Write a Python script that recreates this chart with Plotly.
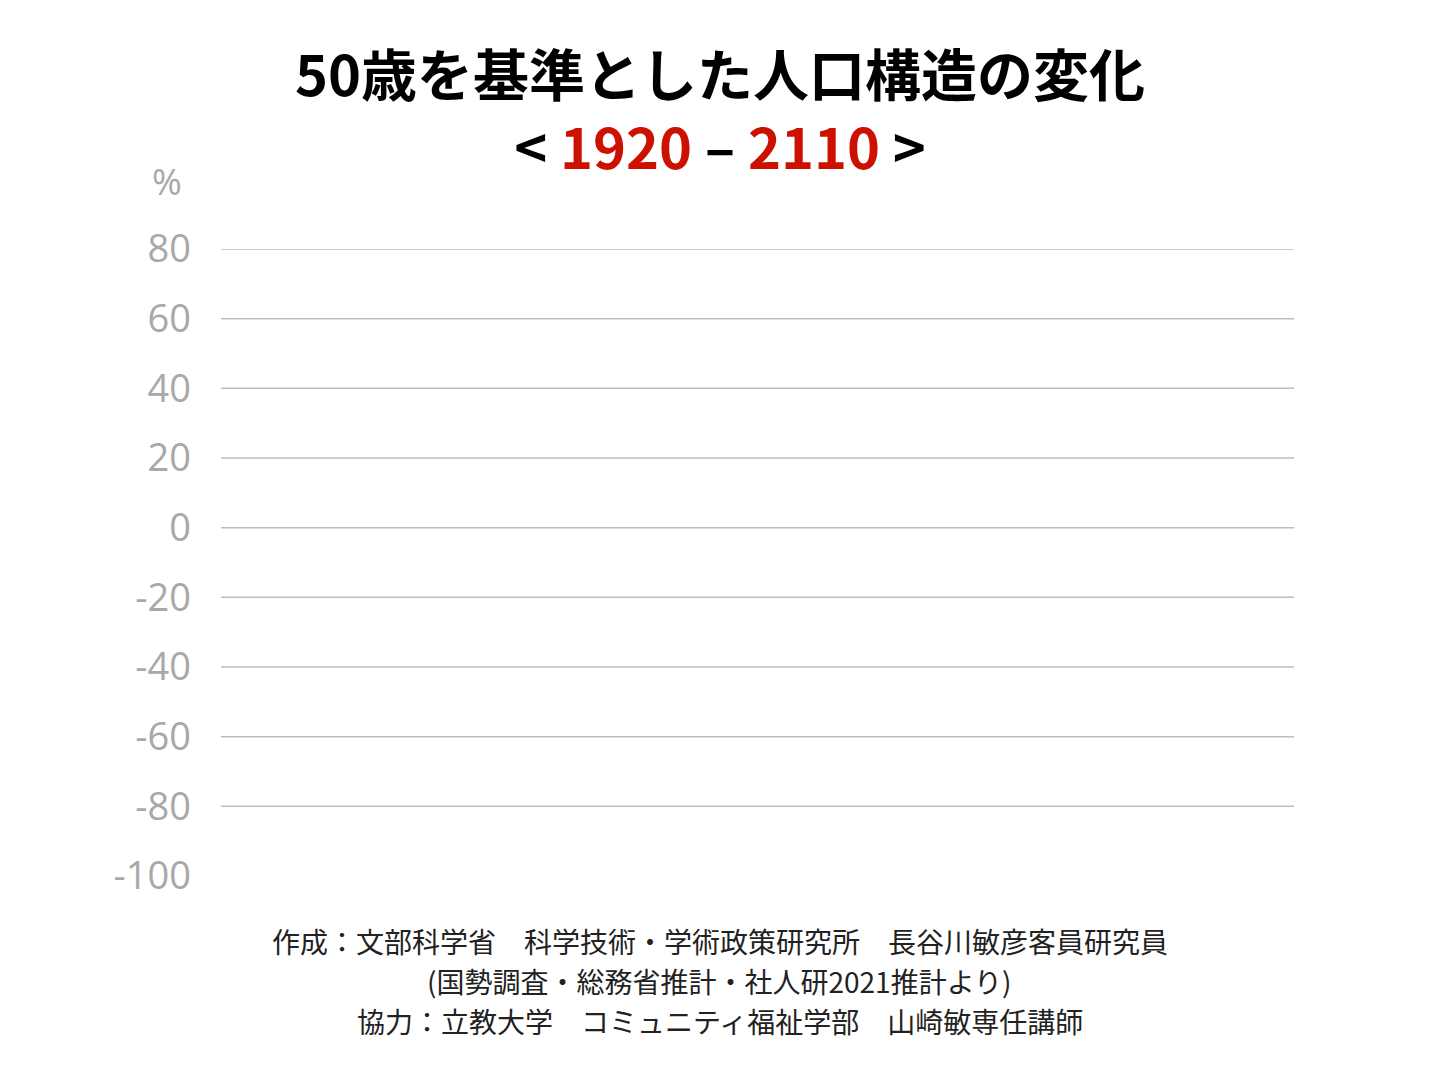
import plotly.graph_objects as go

# data (the reference chart is empty: only the frame is drawn)
years = [1920, 2110]
y_ticks = [80, 60, 40, 20, 0, -20, -40, -60, -80, -100]
grid_vals = [80, 60, 40, 20, 0, -20, -40, -60, -80]

title_main = "50歳を基準とした人口構造の変化"
year_from = "1920"
year_to = "2110"
footer_lines = [
    "作成：文部科学省　科学技術・学術政策研究所　長谷川敏彦客員研究員",
    "(国勢調査・総務省推計・社人研2021推計より)",
    "協力：立教大学　コミュニティ福祉学部　山崎敏専任講師",
]

CJK = "Noto Sans CJK JP"
RED = "#cc1100"
GREY = "#a8a8a8"

fig = go.Figure()
fig.add_trace(go.Scatter(x=[], y=[], mode="lines", showlegend=False))

# gridlines (no line at -100 in the original)
for g in grid_vals:
    fig.add_shape(type="line", xref="paper", x0=0, x1=1, yref="y", y0=g, y1=g,
                  line=dict(color="#bdbdbd", width=1.5), layer="below")

fig.update_xaxes(range=years, visible=False, showgrid=False, zeroline=False)
fig.update_yaxes(range=[-100, 80], tickvals=y_ticks, ticktext=[str(v) for v in y_ticks],
                 showgrid=False, zeroline=False, showline=False, ticks="",
                 ticklabelstandoff=29,
                 tickfont=dict(family="Open Sans", size=38, color=GREY))

title_text = ("<b>%s</b><br><b>&lt; <span style='color:%s'>%s</span> – "
              "<span style='color:%s'>%s</span> &gt;</b>"
              % (title_main, RED, year_from, RED, year_to))

annos = [
    dict(text="%", x=-0.05, y=1.107, font=dict(family="Open Sans", size=36, color=GREY)),
    dict(text=title_text, x=0.465, y=1.225,
         font=dict(family=CJK, size=56, color="#000000")),
]
for i, line in enumerate(footer_lines):
    annos.append(dict(text=line, x=0.465, y=-0.1037 - 0.0638 * i,
                      font=dict(family=CJK, size=28, color="#222222")))
for a in annos:
    a.update(xref="paper", yref="paper", showarrow=False,
             xanchor="center", yanchor="middle")
fig.update_layout(annotations=annos)

fig.update_layout(
    width=1440, height=1080,
    margin=dict(l=213, r=154, t=241, b=212),
    paper_bgcolor="white", plot_bgcolor="white",
    showlegend=False,
)

fig.write_html("out.html")
